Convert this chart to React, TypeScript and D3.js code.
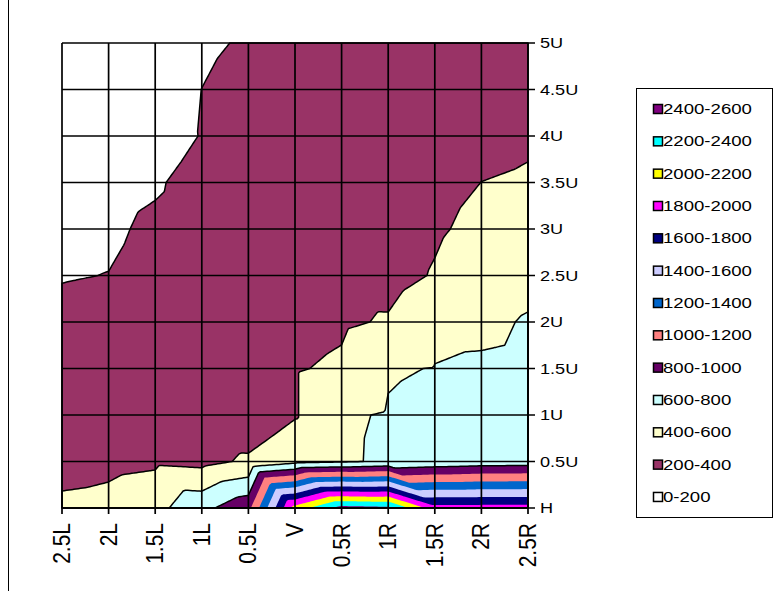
import React, { useMemo } from "react";
import * as d3 from "d3";

// Axis categories
const xLabels = ["2.5L", "2L", "1.5L", "1L", "0.5L", "V", "0.5R", "1R", "1.5R", "2R", "2.5R"];
const yLabels = ["H", "0.5U", "1U", "1.5U", "2U", "2.5U", "3U", "3.5U", "4U", "4.5U", "5U"];

// Surface values, one row per series (H at the bottom, 5U at the top)
const rowH = [450, 470, 538, 744, 940, 2080, 2480, 2450, 1880, 1880, 1880];
const row05U = [313, 345, 369, 346, 429, 546, 580, 623, 660, 690, 700];
const row1U = [290, 300, 300, 270, 266, 385, 578, 613, 640, 660, 670];
const row15U = [270, 280, 295, 300, 300, 385, 432, 585, 605, 625, 640];
const row2U = [250, 265, 280, 300, 310, 330, 369, 420, 555, 560, 615];
const row25U = [190, 203, 260, 300, 320, 330, 330, 326, 415, 510, 545];
const row3U = [160, 170, 235, 290, 320, 330, 340, 300, 375, 450, 480];
const row35U = [120, 140, 178, 272, 310, 320, 330, 335, 340, 401, 420];
const row4U = [110, 115, 110, 208, 290, 300, 305, 310, 310, 350, 375];
const row45U = [105, 115, 120, 201, 260, 275, 285, 290, 290, 320, 340];
const row5U = [100, 110, 130, 170, 220, 250, 270, 280, 280, 300, 320];

// Value bands
const bandLabels = [
  "0-200", "200-400", "400-600", "600-800", "800-1000", "1000-1200", "1200-1400",
  "1400-1600", "1600-1800", "1800-2000", "2000-2200", "2200-2400", "2400-2600",
];
const bandColors = [
  "#FFFFFF", "#993366", "#FFFFCC", "#CCFFFF", "#660066", "#FF8080", "#0066CC",
  "#CCCCFF", "#000080", "#FF00FF", "#FFFF00", "#00FFFF", "#800080",
];
const bandStep = 200;
const outlinedLevels = [200, 400, 600, 800];

const W = 777;
const H = 591;
const plot = { left: 62, right: 528, top: 43, bottom: 508 };
const FONT = "'Liberation Sans', Arial, sans-serif";
const SUB = 20;

export default function App() {
  const grid = [rowH, row05U, row1U, row15U, row2U, row25U, row3U, row35U, row4U, row45U, row5U];
  const nCols = xLabels.length;
  const nRows = yLabels.length;

  const xs = d3.scaleLinear().domain([0, nCols - 1]).range([plot.left, plot.right]);
  const ys = d3.scaleLinear().domain([0, nRows - 1]).range([plot.bottom, plot.top]);

  const { bands, path } = useMemo(() => {
    // each cell is split along its top-left / bottom-right diagonal and
    // interpolated linearly inside the two triangles
    const valueAt = (u: number, v: number) => {
      const c = Math.min(Math.floor(u), nCols - 2);
      const r = Math.min(Math.floor(v), nRows - 2);
      const fx = u - c;
      const fy = v - r;
      const bl = grid[r][c];
      const br = grid[r][c + 1];
      const tl = grid[r + 1][c];
      const tr = grid[r + 1][c + 1];
      if (fx + fy <= 1) return bl + fx * (br - bl) + fy * (tl - bl);
      return tr + (1 - fx) * (tl - tr) + (1 - fy) * (br - tr);
    };
    const nx = (nCols - 1) * SUB + 1;
    const ny = (nRows - 1) * SUB + 1;
    const values = new Array(nx * ny);
    for (let j = 0; j < ny; j++) {
      for (let i = 0; i < nx; i++) values[j * nx + i] = valueAt(i / SUB, j / SUB);
    }
    const thresholds = d3.range(bandStep, bandStep * bandColors.length, bandStep);
    const bands = d3.contours().size([nx, ny]).thresholds(thresholds)(values);
    const clamp = (t: number, hi: number) => Math.max(0, Math.min(hi, t));
    const proj = d3.geoTransform({
      point(x: number, y: number) {
        (this as any).stream.point(
          xs(clamp(x - 0.5, nx - 1) / SUB),
          ys(clamp(y - 0.5, ny - 1) / SUB)
        );
      },
    });
    return { bands, path: d3.geoPath(proj) };
  }, []);

  const legendTop = 109;
  const legendGap = 32.33;

  return (
    <svg width={W} height={H} style={{ display: "block", position: "absolute", left: 0, top: 0 }}>
      <rect x={0} y={0} width={W} height={H} fill="#fff" />
      <line x1={8.5} y1={0} x2={8.5} y2={591} stroke="#000" strokeWidth={1} />

      {/* filled bands */}
      <rect x={plot.left} y={plot.top} width={plot.right - plot.left} height={plot.bottom - plot.top} fill={bandColors[0]} />
      {bands.map((b, k) => (
        <path key={k} d={path(b as any) || ""} fill={bandColors[k + 1]} stroke="none" />
      ))}
      {bands
        .filter((b) => outlinedLevels.includes(b.value))
        .map((b, k) => (
          <path key={"o" + k} d={path(b as any) || ""} fill="none" stroke="#000" strokeWidth={1.5} strokeLinejoin="round" />
        ))}

      {/* grid */}
      {xLabels.map((_, i) => (
        <line key={"gx" + i} x1={xs(i)} x2={xs(i)} y1={plot.top} y2={plot.bottom + 6} stroke="#000" strokeWidth={1.7} />
      ))}
      {yLabels.map((_, j) => (
        <line key={"gy" + j} x1={plot.left} x2={plot.right + 7} y1={ys(j)} y2={ys(j)} stroke="#000" strokeWidth={1.7} />
      ))}

      {/* category labels */}
      {xLabels.map((t, i) => (
        <text
          key={"xl" + i}
          transform={`translate(${xs(i)},523) scale(1.15,1) rotate(-90)`}
          textAnchor="end"
          dominantBaseline="central"
          fontFamily={FONT}
          fontSize={21}
          fill="#000"
        >
          {t}
        </text>
      ))}
      {yLabels.map((t, j) => (
        <text
          key={"yl" + j}
          transform={`translate(540,${ys(j)}) scale(1.17,1)`}
          dominantBaseline="central"
          fontFamily={FONT}
          fontSize={15.5}
          fill="#000"
        >
          {t}
        </text>
      ))}

      {/* legend */}
      <rect x={636.5} y={88.5} width={136} height={429} fill="#fff" stroke="#000" strokeWidth={1} />
      {bandLabels
        .map((lab, k) => ({ lab, k }))
        .reverse()
        .map(({ lab, k }, i) => {
          const cy = legendTop + i * legendGap;
          return (
            <g key={"lg" + k}>
              <rect x={653.5} y={cy - 4.5} width={9} height={9} fill={bandColors[k]} stroke="#000" strokeWidth={1.5} />
              <text
                transform={`translate(663,${cy}) scale(1.2,1)`}
                dominantBaseline="central"
                fontFamily={FONT}
                fontSize={15.5}
                fill="#000"
              >
                {lab}
              </text>
            </g>
          );
        })}
    </svg>
  );
}
